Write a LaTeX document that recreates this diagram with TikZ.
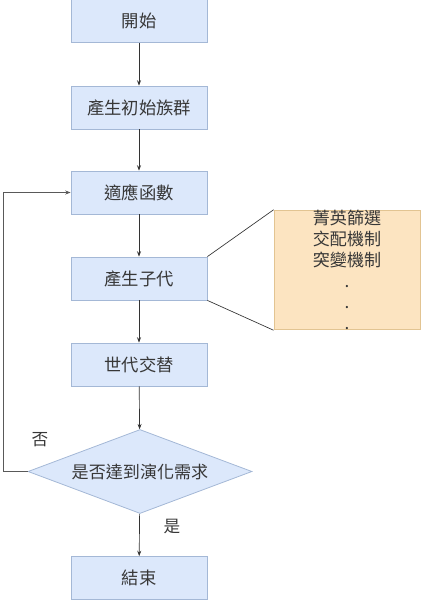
\documentclass[tikz,border=0pt]{standalone}
\usepackage{fontspec}
\usepackage{xcolor}
\usepackage{tikz}
\usetikzlibrary{shapes.geometric,arrows.meta}
\setmainfont{Noto Sans CJK TC}
\definecolor{cBoxFill}{RGB}{220,232,251}
\definecolor{cBoxLine}{RGB}{164,184,214}
\definecolor{cOpsFill}{RGB}{252,228,193}
\definecolor{cOpsLine}{RGB}{226,196,146}
\definecolor{cText}{RGB}{55,55,55}

\begin{document}
\begin{tikzpicture}[x=0.75pt,y=-0.75pt,
  stepbox/.style={draw=cBoxLine,fill=cBoxFill,line width=0.6pt,minimum width=102pt,minimum height=32.25pt,inner sep=0pt,font=\fontsize{13}{15}\selectfont,text=cText},
  decbox/.style={diamond,aspect=2.67,draw=cBoxLine,fill=cBoxFill,line width=0.6pt,minimum width=168pt,minimum height=63pt,inner sep=0pt,font=\fontsize{12.8}{15}\selectfont,text=cText},
  opsbox/.style={draw=cOpsLine,fill=cOpsFill,line width=0.6pt,minimum width=109.5pt,minimum height=88.5pt,inner sep=0pt,align=center,font=\fontsize{12.8}{15.75}\selectfont,text=cText},
  flow/.style={->,>={Stealth[length=4pt,width=3pt]},line width=0.5pt,black!80},
  tag/.style={font=\fontsize{12.5}{14}\selectfont,text=cText}]
\useasboundingbox (0,0) rectangle (421,600);
% main flow
\node[stepbox] (start) at (139,21) {開始};
\node[stepbox] (init) at (139,107.5) {產生初始族群};
\node[stepbox] (fit) at (139,192.5) {適應函數};
\node[stepbox] (kid) at (139,278.5) {產生子代};
\node[stepbox] (swap) at (139,364.5) {世代交替};
\node[decbox] (dec) at (140,471.5) {是否達到演化需求};
\node[stepbox] (stop) at (139,578) {結束};
% operators
\node[opsbox] (ops) at (347,270) {菁英篩選\\交配機制\\突變機制\\.\\.\\.};
\draw[black!80,line width=0.5pt] (kid.north east) -- (ops.north west);
\draw[black!80,line width=0.5pt] (kid.south east) -- (ops.south west);
% arrows
\draw[flow] (start) -- (init);
\draw[flow] (init) -- (fit);
\draw[flow] (fit) -- (kid);
\draw[flow] (kid) -- (swap);
\draw[flow] (swap) -- (dec);
\draw[flow] (dec) -- (stop);
\draw[flow,black!65] (dec.west) -- ++(-24,0) |- (fit.west);
\node[tag] (no) at (40,440) {否};
\node[tag] (yes) at (172,527) {是};
\end{tikzpicture}
\end{document}
